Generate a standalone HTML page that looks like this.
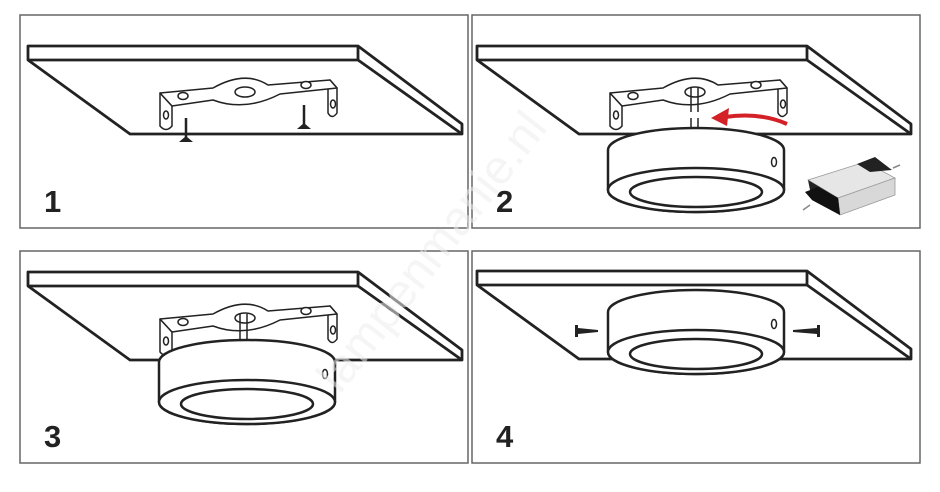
<!DOCTYPE html>
<html><head><meta charset="utf-8"><style>
html,body{margin:0;padding:0;background:#fff;}
svg{display:block}
text{font-family:"Liberation Sans",sans-serif;}
</style></head><body>
<svg width="940" height="492" viewBox="0 0 940 492" xmlns="http://www.w3.org/2000/svg">
<defs>
<g id="ceil" fill="#fff" stroke="#222" stroke-width="2.8" stroke-linejoin="round">
  <path d="M28,60 L130,134 L462,134 L462,124 L358,46 L28,46 Z"/>
  <path d="M28,60 L358,60 L462,134" fill="none"/>
  <path d="M358,46 L358,60" fill="none"/>
</g>
<g id="bracket" fill="#fff" stroke="#222" stroke-width="1.5" stroke-linejoin="round">
  <path d="M160,93 L160,126 Q166,133 172,126 L172,106 Z"/>
  <path d="M330,80 L337,88 L337,113 Q332,120 328,113 L328,90 Z"/>
  <path d="M160,93 L213,88 Q245,70 268,85 L330,80 L337,88 L280,94 Q245,112 213,100 L172,106 Z"/>
  <ellipse cx="183" cy="96" rx="5" ry="3.5"/>
  <ellipse cx="306" cy="85" rx="5" ry="3.5"/>
  <ellipse cx="166" cy="115" rx="2.5" ry="4"/>
  <ellipse cx="333" cy="104" rx="2.5" ry="4"/>
</g>
<g id="lamp" fill="#fff" stroke="#222" stroke-width="2.5">
  <path d="M0,-40 L0,0 A88,22 0 0 0 176,0 L176,-40 A88,22 0 0 0 0,-40 Z"/>
  <ellipse cx="88" cy="0" rx="88" ry="22"/>
  <ellipse cx="88" cy="2" rx="66" ry="15"/>
  <ellipse cx="166" cy="-28" rx="2.5" ry="4.5" stroke-width="1.5"/>
</g>
</defs>

<rect x="20" y="15" width="448" height="213" fill="none" stroke="#666" stroke-width="1.5"/>
<rect x="472" y="15" width="448" height="213" fill="none" stroke="#666" stroke-width="1.5"/>
<rect x="20" y="251" width="448" height="212" fill="none" stroke="#666" stroke-width="1.5"/>
<rect x="472" y="251" width="448" height="212" fill="none" stroke="#666" stroke-width="1.5"/>

<!-- panel 1 -->
<use href="#ceil"/>
<use href="#bracket"/>
<g stroke="#222" stroke-width="2.5"><line x1="186" y1="118" x2="186" y2="137"/><line x1="304" y1="105" x2="304" y2="124"/></g>
<path d="M179,142 L186,136 L193,142 Z M297,129 L304,123 L311,129 Z" fill="#222"/>
<ellipse cx="245" cy="92" rx="10" ry="5" fill="#fff" stroke="#222" stroke-width="1.5"/>
<text x="44" y="212" font-size="31" font-weight="bold" fill="#222">1</text>

<!-- panel 2 -->
<use href="#ceil" transform="translate(449,0)"/>
<use href="#bracket" transform="translate(450,0)"/>
<ellipse cx="695" cy="92" rx="10" ry="5" fill="#fff" stroke="#222" stroke-width="1.5"/>
<g stroke="#222" stroke-width="1.5"><line x1="691" y1="88" x2="691" y2="112"/><line x1="698" y1="88" x2="698" y2="112"/><line x1="691" y1="118" x2="691" y2="134"/><line x1="698" y1="118" x2="698" y2="134"/></g>
<use href="#lamp" transform="translate(608,190)"/>
<path d="M787,124 Q760,112 725,117" fill="none" stroke="#d42027" stroke-width="4"/>
<path d="M711,118 L729,108 L727,126 Z" fill="#d42027"/>
<g>
  <path d="M808,180 L865,162 L895,178 L838,198 Z" fill="#e6e6e6" stroke="#999" stroke-width="0.8"/>
  <path d="M838,198 L895,178 L895,195 L840,215 Z" fill="#d8d8d8" stroke="#999" stroke-width="0.8"/>
  <path d="M808,180 L838,198 L840,215 L812,200 Z" fill="#222"/>
  <path d="M805,192 L812,200 L840,215 L838,198 L818,187 Z" fill="#111"/>
  <path d="M857,164 L875,157 L892,170 L870,172 Z" fill="#222"/>
  <line x1="810" y1="205" x2="803" y2="210" stroke="#888" stroke-width="1.5"/>
  <line x1="893" y1="168" x2="900" y2="165" stroke="#888" stroke-width="1.5"/>
</g>
<text x="496" y="212" font-size="31" font-weight="bold" fill="#222">2</text>

<!-- panel 3 -->
<use href="#ceil" transform="translate(0,226)"/>
<use href="#bracket" transform="translate(0,226)"/>
<ellipse cx="245" cy="318" rx="10" ry="5" fill="#fff" stroke="#222" stroke-width="1.5"/>
<g stroke="#222" stroke-width="1.5"><line x1="240" y1="314" x2="240" y2="345"/><line x1="247" y1="314" x2="247" y2="345"/></g>
<use href="#lamp" transform="translate(159,402)"/>
<text x="44" y="447" font-size="31" font-weight="bold" fill="#222">3</text>

<!-- panel 4 -->
<use href="#ceil" transform="translate(449,225)"/>
<use href="#lamp" transform="translate(608,352)"/>
<g fill="#222">
  <path d="M575,325 L578,325 L578,337 L575,337 Z M578,328 L598,330 L598,332 L578,334 Z"/>
  <path d="M820,325 L817,325 L817,337 L820,337 Z M817,328 L793,330 L793,332 L817,334 Z"/>
</g>
<text x="496" y="447" font-size="31" font-weight="bold" fill="#222">4</text>

<text x="0" y="0" font-size="48" fill="#ececec" fill-opacity="0.55" transform="translate(340,395) rotate(-52)">lampenmanie.nl</text>
</svg>
</body></html>
